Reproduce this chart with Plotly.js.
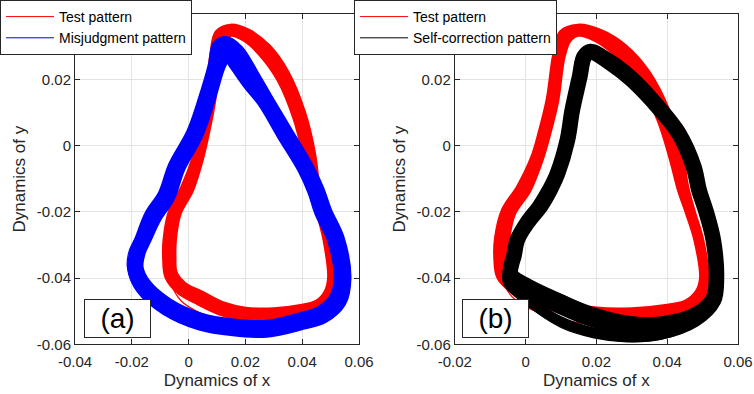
<!DOCTYPE html>
<html>
<head>
<meta charset="utf-8">
<script src="https://cdn.plot.ly/plotly-3.0.1.min.js"></script>
<style>
  body { margin: 0; background: #fff; }
  #myDiv { width: 754px; height: 394px; }
</style>
</head>
<body>
<div id="myDiv"></div>
<script>
//---------------------- DATA ---------------------------

var testAx = [0.0148, 0.0212, 0.0280, 0.0344, 0.0402, 0.0437, 0.0453, 0.0471, 0.0495, 0.0511, 0.0503, 0.0468, 0.0405, 0.0300, 0.0200, 0.0116, 0.0033, -0.0033, -0.0074, -0.0082, -0.0080, -0.0061, -0.0018, 0.0022, 0.0043, 0.0066, 0.0084, 0.0102, 0.0148];
var testAy = [0.0358, 0.0342, 0.0297, 0.0220, 0.0100, -0.0022, -0.0125, -0.0197, -0.0283, -0.0400, -0.0458, -0.0495, -0.0512, -0.0522, -0.0520, -0.0505, -0.0472, -0.0440, -0.0396, -0.0340, -0.0280, -0.0197, -0.0126, -0.0037, 0.0038, 0.0139, 0.0272, 0.0340, 0.0358];
var testMx = [0.0148, 0.0205, 0.0268, 0.0332, 0.0390, 0.0425, 0.0445, 0.0465, 0.0489, 0.0505, 0.0495, 0.0460, 0.0400, 0.0300, 0.0200, 0.0120, 0.0040, -0.0025, -0.0062, -0.0068, -0.0066, -0.0048, -0.0005, 0.0032, 0.0053, 0.0076, 0.0094, 0.0112, 0.0148];
var testMy = [0.0348, 0.0332, 0.0287, 0.0210, 0.0090, -0.0030, -0.0130, -0.0200, -0.0284, -0.0400, -0.0450, -0.0485, -0.0500, -0.0510, -0.0508, -0.0493, -0.0460, -0.0430, -0.0390, -0.0340, -0.0280, -0.0200, -0.0130, -0.0040, 0.0036, 0.0137, 0.0270, 0.0330, 0.0348];
var testBx = [0.0148, 0.0198, 0.0256, 0.0320, 0.0378, 0.0413, 0.0437, 0.0459, 0.0483, 0.0499, 0.0487, 0.0452, 0.0395, 0.0300, 0.0200, 0.0124, 0.0047, -0.0017, -0.0050, -0.0054, -0.0052, -0.0035, 0.0008, 0.0042, 0.0063, 0.0086, 0.0104, 0.0122, 0.0148];
var testBy = [0.0338, 0.0322, 0.0277, 0.0200, 0.0080, -0.0038, -0.0135, -0.0203, -0.0285, -0.0400, -0.0442, -0.0475, -0.0488, -0.0498, -0.0496, -0.0481, -0.0448, -0.0420, -0.0384, -0.0340, -0.0280, -0.0203, -0.0134, -0.0043, 0.0034, 0.0135, 0.0268, 0.0320, 0.0338];
// stray cycle sagging low on the bottom-left stretch
var testCy = [0.0348, 0.0332, 0.0287, 0.0210, 0.0090, -0.0030, -0.0130, -0.0200, -0.0284, -0.0400, -0.0452, -0.0490, -0.0508, -0.0532, -0.0540, -0.0530, -0.0505, -0.0470, -0.0415, -0.0340, -0.0280, -0.0200, -0.0130, -0.0040, 0.0036, 0.0137, 0.0270, 0.0330, 0.0348];

// misjudgment pattern (a)
var misAx = [0.0135, 0.0178, 0.0231, 0.0279, 0.0350, 0.0421, 0.0460, 0.0488, 0.0533, 0.0556, 0.0538, 0.0478, 0.0395, 0.0275, 0.0157, 0.0038, -0.0083, -0.0168, -0.0199, -0.0190, -0.0172, -0.0138, -0.0091, -0.0055, 0.0009, 0.0050, 0.0085, 0.0100, 0.0135];
var misAy = [0.0315, 0.0288, 0.0215, 0.0144, 0.0042, -0.0060, -0.0130, -0.0197, -0.0282, -0.0400, -0.0474, -0.0521, -0.0543, -0.0565, -0.0561, -0.0543, -0.0497, -0.0434, -0.0372, -0.0318, -0.0280, -0.0207, -0.0146, -0.0060, 0.0040, 0.0140, 0.0242, 0.0303, 0.0315];
var misMx = [0.0136, 0.0170, 0.0220, 0.0269, 0.0339, 0.0410, 0.0448, 0.0474, 0.0519, 0.0542, 0.0525, 0.0470, 0.0392, 0.0275, 0.0157, 0.0040, -0.0077, -0.0160, -0.0188, -0.0180, -0.0162, -0.0125, -0.0078, -0.0042, 0.0022, 0.0063, 0.0098, 0.0113, 0.0136];
var misMy = [0.0291, 0.0265, 0.0200, 0.0137, 0.0036, -0.0065, -0.0135, -0.0200, -0.0284, -0.0400, -0.0466, -0.0510, -0.0531, -0.0553, -0.0549, -0.0531, -0.0486, -0.0425, -0.0370, -0.0320, -0.0284, -0.0213, -0.0152, -0.0065, 0.0036, 0.0137, 0.0238, 0.0282, 0.0291];
var misBx = [0.0138, 0.0160, 0.0207, 0.0259, 0.0328, 0.0399, 0.0436, 0.0460, 0.0505, 0.0528, 0.0512, 0.0462, 0.0389, 0.0275, 0.0157, 0.0042, -0.0071, -0.0150, -0.0176, -0.0168, -0.0150, -0.0112, -0.0065, -0.0029, 0.0035, 0.0076, 0.0111, 0.0124, 0.0138];
var misBy = [0.0267, 0.0242, 0.0185, 0.0130, 0.0030, -0.0070, -0.0140, -0.0203, -0.0286, -0.0400, -0.0458, -0.0499, -0.0519, -0.0541, -0.0537, -0.0519, -0.0475, -0.0416, -0.0368, -0.0322, -0.0288, -0.0219, -0.0158, -0.0070, 0.0032, 0.0134, 0.0234, 0.0257, 0.0267];
// stray cycle drifting out on the left
var misCx = [0.0135, 0.0170, 0.0222, 0.0269, 0.0339, 0.0410, 0.0448, 0.0474, 0.0519, 0.0542, 0.0525, 0.0470, 0.0392, 0.0275, 0.0157, 0.0040, -0.0077, -0.0182, -0.0215, -0.0210, -0.0190, -0.0145, -0.0095, -0.0042, 0.0022, 0.0063, 0.0098, 0.0115, 0.0135];
var misCy = [0.0325, 0.0260, 0.0200, 0.0137, 0.0036, -0.0065, -0.0135, -0.0200, -0.0284, -0.0400, -0.0466, -0.0510, -0.0531, -0.0553, -0.0549, -0.0531, -0.0486, -0.0425, -0.0370, -0.0320, -0.0284, -0.0213, -0.0152, -0.0065, 0.0036, 0.0137, 0.0238, 0.0310, 0.0325];

// self-correction pattern (b)
var selfAx = [0.0183, 0.0245, 0.0307, 0.0364, 0.0440, 0.0483, 0.0498, 0.0518, 0.0538, 0.0547, 0.0538, 0.0480, 0.0383, 0.0287, 0.0190, 0.0094, -0.0001, -0.0050, -0.0048, -0.0041, -0.0031, -0.0003, 0.0034, 0.0062, 0.0082, 0.0110, 0.0124, 0.0145, 0.0158, 0.0183];
var selfAy = [0.0292, 0.0258, 0.0206, 0.0142, 0.0040, -0.0062, -0.0133, -0.0199, -0.0284, -0.0400, -0.0471, -0.0533, -0.0571, -0.0578, -0.0564, -0.0528, -0.0462, -0.0413, -0.0360, -0.0334, -0.0283, -0.0230, -0.0178, -0.0128, -0.0083, 0.0017, 0.0108, 0.0210, 0.0272, 0.0292];
var selfMx = [0.0183, 0.0240, 0.0300, 0.0357, 0.0433, 0.0475, 0.0490, 0.0510, 0.0530, 0.0539, 0.0530, 0.0475, 0.0381, 0.0287, 0.0193, 0.0099, 0.0005, -0.0042, -0.0040, -0.0033, -0.0023, 0.0005, 0.0042, 0.0070, 0.0090, 0.0118, 0.0132, 0.0153, 0.0165, 0.0183];
var selfMy = [0.0283, 0.0250, 0.0200, 0.0137, 0.0036, -0.0065, -0.0135, -0.0200, -0.0284, -0.0400, -0.0466, -0.0520, -0.0551, -0.0553, -0.0535, -0.0495, -0.0440, -0.0400, -0.0360, -0.0334, -0.0284, -0.0233, -0.0182, -0.0131, -0.0085, 0.0016, 0.0107, 0.0208, 0.0267, 0.0283];
var selfBx = [0.0183, 0.0235, 0.0293, 0.0350, 0.0426, 0.0467, 0.0482, 0.0502, 0.0522, 0.0531, 0.0522, 0.0470, 0.0379, 0.0287, 0.0196, 0.0104, 0.0011, -0.0034, -0.0032, -0.0025, -0.0015, 0.0013, 0.0050, 0.0078, 0.0098, 0.0126, 0.0140, 0.0161, 0.0172, 0.0183];
var selfBy = [0.0274, 0.0242, 0.0194, 0.0132, 0.0032, -0.0068, -0.0137, -0.0201, -0.0284, -0.0400, -0.0461, -0.0507, -0.0531, -0.0530, -0.0508, -0.0465, -0.0418, -0.0387, -0.0360, -0.0334, -0.0285, -0.0236, -0.0186, -0.0134, -0.0087, 0.0015, 0.0106, 0.0206, 0.0262, 0.0274];
// stray cycles spreading the bottom-left stretch
var selfCy = [0.0283, 0.0250, 0.0200, 0.0137, 0.0036, -0.0065, -0.0135, -0.0200, -0.0284, -0.0400, -0.0466, -0.0545, -0.0585, -0.0592, -0.0580, -0.0548, -0.0480, -0.0425, -0.0360, -0.0334, -0.0284, -0.0233, -0.0182, -0.0131, -0.0085, 0.0016, 0.0107, 0.0208, 0.0267, 0.0283];
var selfDy = [0.0283, 0.0250, 0.0200, 0.0137, 0.0036, -0.0065, -0.0135, -0.0200, -0.0284, -0.0400, -0.0466, -0.0498, -0.0520, -0.0515, -0.0490, -0.0450, -0.0405, -0.0378, -0.0360, -0.0334, -0.0284, -0.0233, -0.0182, -0.0131, -0.0085, 0.0016, 0.0107, 0.0208, 0.0267, 0.0283];

// ticks
var xTicksA = [-0.04, -0.02, 0, 0.02, 0.04, 0.06];
var xLabelsA = ['-0.04', '-0.02', '0', '0.02', '0.04', '0.06'];
var xTicksB = [-0.02, 0, 0.02, 0.04, 0.06];
var xLabelsB = ['-0.02', '0', '0.02', '0.04', '0.06'];
var yTicks = [-0.06, -0.04, -0.02, 0, 0.02];
var yLabels = ['-0.06', '-0.04', '-0.02', '0', '0.02'];

//---------------------- TRACES ---------------------------

function loop(x, y, color, width, xa, ya){
    return {
        x: x, y: y, xaxis: xa, yaxis: ya,
        type: 'scatter', mode: 'lines',
        line: {color: color, width: width, shape: 'spline', smoothing: 1},
        showlegend: false, hoverinfo: 'skip'
    };
}

function key(name, color, legend){
    return {
        x: [null], y: [null], type: 'scatter', mode: 'lines', name: name,
        line: {color: color, width: 1}, legend: legend, showlegend: true
    };
}

var data = [
    loop(testAx, testAy, '#ff0000', 6.5, 'x', 'y'),
    loop(testMx, testMy, '#ff0000', 6.5, 'x', 'y'),
    loop(testBx, testBy, '#ff0000', 6.5, 'x', 'y'),
    loop(testMx, testCy, '#ff0000', 1.2, 'x', 'y'),
    loop(misAx, misAy, '#0000ff', 10, 'x', 'y'),
    loop(misMx, misMy, '#0000ff', 10, 'x', 'y'),
    loop(misBx, misBy, '#0000ff', 10, 'x', 'y'),
    loop(misCx, misCy, '#0000ff', 1.2, 'x', 'y'),
    loop(testAx, testAy, '#ff0000', 6.5, 'x2', 'y2'),
    loop(testMx, testMy, '#ff0000', 6.5, 'x2', 'y2'),
    loop(testBx, testBy, '#ff0000', 6.5, 'x2', 'y2'),
    loop(testMx, testCy, '#ff0000', 1.2, 'x2', 'y2'),
    loop(selfAx, selfAy, '#000000', 10, 'x2', 'y2'),
    loop(selfMx, selfMy, '#000000', 10, 'x2', 'y2'),
    loop(selfBx, selfBy, '#000000', 10, 'x2', 'y2'),
    loop(selfMx, selfCy, '#000000', 1.5, 'x2', 'y2'),
    loop(selfMx, selfDy, '#000000', 1.5, 'x2', 'y2'),
    key('Test pattern', '#ff0000', 'legend'),
    key('Misjudgment pattern', '#0000ff', 'legend'),
    key('Test pattern', '#ff0000', 'legend2'),
    key('Self-correction pattern', '#000000', 'legend2')
];

//---------------------- LAYOUT ---------------------------

var font = 'Arial, "Liberation Sans", sans-serif';

function xax(domain, range, vals, labels){
    return {
        domain: domain, range: range, tickvals: vals, ticktext: labels,
        ticks: 'inside', ticklen: 5, tickcolor: '#262626', ticklabelstandoff: 4,
        showline: true, linecolor: '#262626', linewidth: 1, mirror: 'ticks',
        showgrid: true, gridcolor: '#e3e3e3', zeroline: false,
        tickfont: {family: font, size: 15, color: '#262626'},
        title: {text: 'Dynamics of x', font: {family: font, size: 17, color: '#262626'}, standoff: 4},
        automargin: false
    };
}

function yax(domain, anchor){
    return {
        domain: domain, range: [-0.06, 0.0397], tickvals: yTicks, ticktext: yLabels, anchor: anchor,
        ticks: 'inside', ticklen: 5, tickcolor: '#262626',
        showline: true, linecolor: '#262626', linewidth: 1, mirror: 'ticks',
        showgrid: true, gridcolor: '#e3e3e3', zeroline: false,
        tickfont: {family: font, size: 15, color: '#262626'},
        title: {text: 'Dynamics of y', font: {family: font, size: 17, color: '#262626'}, standoff: 6},
        automargin: false
    };
}

function leg(x){
    return {
        x: x, y: 1, xref: 'paper', yref: 'paper', xanchor: 'left', yanchor: 'top',
        bgcolor: '#ffffff', bordercolor: '#262626', borderwidth: 1,
        font: {family: font, size: 14, color: '#000000'},
        itemwidth: 48, tracegroupgap: 0
    };
}

var yDom = [0.1261, 0.9645];

function tag(text, x){
    return {
        text: text, xref: 'paper', yref: 'paper', x: x, y: 0.1916,
        xanchor: 'center', yanchor: 'middle', showarrow: false,
        width: 65, height: 37, borderpad: 0, borderwidth: 1, bordercolor: '#262626', bgcolor: '#ffffff',
        font: {family: font, size: 28, color: '#000000'}
    };
}

var layout = {
    width: 754, height: 394,
    margin: {l: 0, r: 0, t: 0, b: 0},
    paper_bgcolor: '#ffffff', plot_bgcolor: '#ffffff',
    xaxis: xax([0.0995, 0.4761], [-0.04, 0.06], xTicksA, xLabelsA),
    yaxis: yax(yDom, 'x'),
    xaxis2: Object.assign(xax([0.6031, 0.9788], [-0.02, 0.06], xTicksB, xLabelsB), {anchor: 'y2'}),
    yaxis2: yax(yDom, 'x2'),
    legend: leg(0),
    legend2: leg(0.4695),
    annotations: [tag('(a)', 0.1558), tag('(b)', 0.6572)]
};

Plotly.newPlot('myDiv', data, layout, {staticPlot: true});
</script>
</body>
</html>
